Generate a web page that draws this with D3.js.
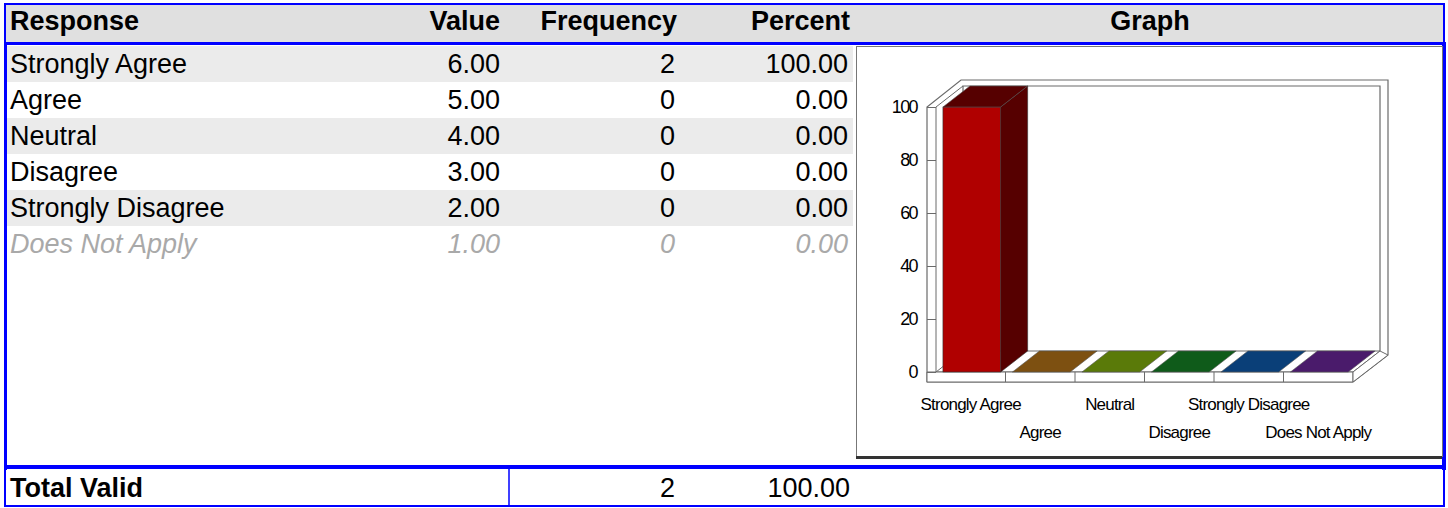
<!DOCTYPE html>
<html>
<head>
<meta charset="utf-8">
<script src="https://cdn.jsdelivr.net/npm/d3@7"></script>
<style>
  html, body { margin: 0; padding: 0; background: #fff; }
  svg { display: block; font-family: "Liberation Sans", Arial, sans-serif; }
</style>
</head>
<body>
<svg width="1448" height="508"></svg>
<script>
// table data
var responses = ["Strongly Agree", "Agree", "Neutral", "Disagree", "Strongly Disagree", "Does Not Apply"];
var values = [6, 5, 4, 3, 2, 1];
var frequencies = [2, 0, 0, 0, 0, 0];
var percents = [100, 0, 0, 0, 0, 0];
var excluded = [false, false, false, false, false, true];
var totalFrequency = 2;
var totalPercent = 100;
var headers = ["Response", "Value", "Frequency", "Percent", "Graph"];
var yTicks = [0, 20, 40, 60, 80, 100];
var barColors = ["#b00000", "#ffa322", "#b8f912", "#1eb935", "#1481f5", "#9837da"];

var svg = d3.select("svg");
var blue = "#0000ff";
var rowTop = 46, rowH = 36;
var fs = 27;

// header
svg.append("rect").attr("x", 5).attr("y", 4).attr("width", 1439).attr("height", 39).attr("fill", "#e0e0e0");

// row backgrounds
svg.selectAll("rect.rowbg")
  .data(responses)
  .enter().append("rect")
    .attr("class", "rowbg")
    .attr("x", 7)
    .attr("y", function(d, i) { return rowTop + i * rowH; })
    .attr("width", 846)
    .attr("height", rowH)
    .attr("fill", function(d, i) { return i % 2 == 0 ? "#ebebeb" : "#ffffff"; });

// blue borders
function bline(x1, y1, x2, y2, w) {
  svg.append("line").attr("x1", x1).attr("y1", y1).attr("x2", x2).attr("y2", y2)
    .attr("stroke", blue).attr("stroke-width", w);
}
bline(4, 4, 1445, 4, 2);      // header top
bline(5, 3, 5, 44, 2);        // header left
bline(1444, 3, 1444, 44, 2);  // header right
bline(4, 43.5, 1446, 43.5, 3); // header bottom
bline(5.5, 43, 5.5, 470, 3);  // body left
bline(1444, 43, 1444, 470, 4); // body right
bline(4, 467, 1446, 467, 4);  // body bottom
bline(5, 467, 5, 507, 2);     // total left
bline(1444, 467, 1444, 507, 2); // total right
bline(4, 506, 1445, 506, 2);  // total bottom
bline(509, 469, 509, 505, 1.5); // total divider

// header text
var colRight = [null, 500, 677, 850];
var head = svg.append("g").attr("font-weight", "bold").attr("font-size", fs).attr("fill", "#000");
head.append("text").attr("x", 10).attr("y", 30).text(headers[0]);
for (var c = 1; c < 4; c++) {
  head.append("text").attr("x", colRight[c]).attr("y", 30).attr("text-anchor", "end").text(headers[c]);
}
head.append("text").attr("x", 1150).attr("y", 30).attr("text-anchor", "middle").text(headers[4]);

// body text
var rows = svg.selectAll("g.row")
  .data(responses)
  .enter().append("g")
    .attr("class", "row")
    .attr("font-size", fs)
    .attr("fill", function(d, i) { return excluded[i] ? "#a9a9a9" : "#000"; })
    .attr("font-style", function(d, i) { return excluded[i] ? "italic" : "normal"; })
    .attr("transform", function(d, i) { return "translate(0," + (rowTop + i * rowH + 27) + ")"; });

rows.append("text").attr("x", 10).text(function(d) { return d; });
rows.append("text").attr("x", colRight[1]).attr("text-anchor", "end")
  .text(function(d, i) { return values[i].toFixed(2); });
rows.append("text").attr("x", 675).attr("text-anchor", "end")
  .text(function(d, i) { return frequencies[i]; });
rows.append("text").attr("x", 848).attr("text-anchor", "end")
  .text(function(d, i) { return percents[i].toFixed(2); });

// total row
svg.append("text").attr("x", 10).attr("y", 497).attr("font-size", fs).attr("font-weight", "bold").text("Total Valid");
svg.append("text").attr("x", 675).attr("y", 497).attr("font-size", fs).attr("text-anchor", "end").text(totalFrequency);
svg.append("text").attr("x", 850).attr("y", 497).attr("font-size", fs).attr("text-anchor", "end").text(totalPercent.toFixed(2));

// ######## graph box
var gb = svg.append("g");
gb.append("rect").attr("x", 856.5).attr("y", 46.5).attr("width", 586).attr("height", 410)
  .attr("fill", "#fff").attr("stroke", "#777").attr("stroke-width", 1);
gb.append("line").attr("x1", 856).attr("y1", 457.5).attr("x2", 1442).attr("y2", 457.5)
  .attr("stroke", "#333").attr("stroke-width", 3);

// scales for the 3d bar chart
var x = d3.scaleBand().domain(responses).range([936, 1353]);
var y = d3.scaleLinear().domain([0, 100]).range([372, 107]);
var dx = 27, dy = -21;     // bar / floor depth
var ox = 35, oy = -27;     // outer wall depth
var wall = 9, floorH = 10;
var x0 = x.range()[0], x1 = x.range()[1], y0 = y(0), yTop = y(100);
var edge = "#6a6a6a";

function poly(pts) { return "M" + pts.map(function(p) { return p.join(","); }).join("L") + "Z"; }

// outer silhouette of the walls and floor
gb.append("path")
  .attr("d", poly([[x0 - wall, y0 + floorH], [x1, y0 + floorH], [x1 + ox, y0 + floorH + oy],
                   [x1 + ox, yTop + oy], [x0 - wall + ox - 1, yTop + oy], [x0 - wall, yTop]]))
  .attr("fill", "#fff").attr("stroke", edge).attr("stroke-width", 1.2);

// inner back wall
gb.append("path")
  .attr("d", "M" + (x0 + dx) + "," + (y0 + dy) + "L" + (x0 + dx) + "," + (yTop + dy) +
             "L" + (x1 + dx) + "," + (yTop + dy) + "L" + (x1 + dx) + "," + (y0 + dy))
  .attr("fill", "none").attr("stroke", edge).attr("stroke-width", 1.2);

// left wall inner edge and top
gb.append("path")
  .attr("d", "M" + x0 + "," + y0 + "L" + x0 + "," + yTop + "L" + (x0 + dx) + "," + (yTop + dy))
  .attr("fill", "none").attr("stroke", edge).attr("stroke-width", 1);

// floor top and front
gb.append("path")
  .attr("d", poly([[x0, y0], [x1, y0], [x1 + dx, y0 + dy], [x0 + dx, y0 + dy]]))
  .attr("fill", "#fff").attr("stroke", edge).attr("stroke-width", 1);
gb.append("path")
  .attr("d", poly([[x0 - wall, y0], [x1, y0], [x1, y0 + floorH], [x0 - wall, y0 + floorH]]))
  .attr("fill", "#fff").attr("stroke", edge).attr("stroke-width", 1);
gb.append("path")
  .attr("d", poly([[x1, y0], [x1 + dx, y0 + dy], [x1 + ox, y0 + floorH + oy], [x1, y0 + floorH]]))
  .attr("fill", "#fff").attr("stroke", edge).attr("stroke-width", 1);

// category dividers on floor front
gb.selectAll("line.cat")
  .data(responses.slice(1))
  .enter().append("line")
    .attr("class", "cat")
    .attr("x1", function(d) { return x(d); }).attr("x2", function(d) { return x(d); })
    .attr("y1", y0).attr("y2", y0 + floorH)
    .attr("stroke", edge).attr("stroke-width", 1);

// y axis
var yAxis = gb.append("g")
  .attr("transform", "translate(" + x0 + ",0)")
  .call(d3.axisLeft(y).tickValues(yTicks).tickSize(wall).tickPadding(10));
yAxis.select(".domain").remove();
yAxis.selectAll("line").attr("stroke", edge);
yAxis.selectAll("text")
  .attr("font-family", "'Liberation Sans', Arial, sans-serif")
  .attr("font-size", 18).attr("letter-spacing", "-1.6px").attr("fill", "#000");

// bars
var bw = x.bandwidth() * 0.83, boff = x.bandwidth() * 0.1;
var bars = gb.selectAll("g.bar")
  .data(responses)
  .enter().append("g")
    .attr("class", "bar");

bars.each(function(d, i) {
  var g = d3.select(this);
  var bx = x(d) + boff, by = y(percents[i]);
  var front = barColors[i];
  var dark = d3.color(front).darker(2).formatHex();
  if (percents[i] > 0) {
    g.append("path")
      .attr("d", poly([[bx + bw, by], [bx + bw + dx, by + dy], [bx + bw + dx, y0 + dy], [bx + bw, y0]]))
      .attr("fill", dark).attr("stroke", "#333").attr("stroke-width", 0.6);
    g.append("rect").attr("x", bx).attr("y", by).attr("width", bw).attr("height", y0 - by)
      .attr("fill", front).attr("stroke", "#333").attr("stroke-width", 0.6);
  }
  g.append("path")
    .attr("d", poly([[bx, by], [bx + bw, by], [bx + bw + dx, by + dy], [bx + dx, by + dy]]))
    .attr("fill", dark).attr("stroke", "#555").attr("stroke-width", 0.6);
});

// category labels, staggered in two rows
gb.selectAll("text.cat")
  .data(responses)
  .enter().append("text")
    .attr("class", "cat")
    .attr("x", function(d) { return x(d) + x.bandwidth() / 2; })
    .attr("y", function(d, i) { return i % 2 == 0 ? 410 : 438; })
    .attr("text-anchor", "middle")
    .attr("font-size", 17)
    .attr("letter-spacing", "-0.8px")
    .attr("fill", "#000")
    .text(function(d) { return d; });
</script>
</body>
</html>
